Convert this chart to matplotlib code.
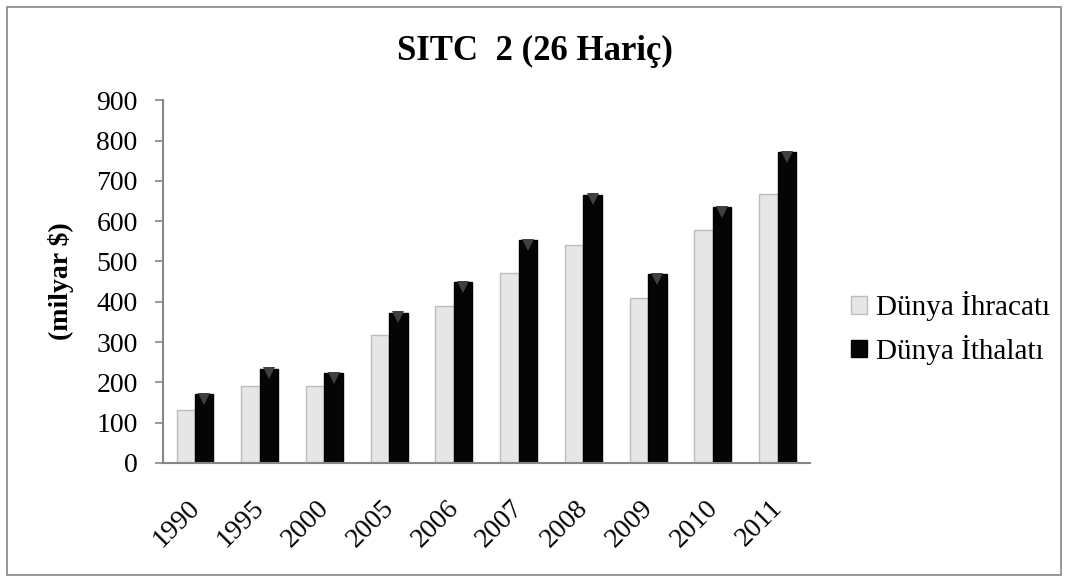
import numpy as np
import matplotlib
matplotlib.use("Agg")
import matplotlib.pyplot as plt
import matplotlib.transforms as mtransforms
from matplotlib.patches import Rectangle

years = ['1990', '1995', '2000', '2005', '2006', '2007', '2008', '2009', '2010', '2011']
ihracat = [132, 190, 190, 317, 389, 472, 542, 410, 579, 668]
ithalat = [170, 234, 224, 373, 448, 553, 666, 468, 634, 771]

plt.rcParams['font.family'] = ['Liberation Serif', 'DejaVu Serif']

fig = plt.figure(figsize=(10.7, 5.83), dpi=100)
ax = fig.add_axes([0.152, 0.206, 0.605, 0.622])

x = np.arange(len(years))
w = 0.285
ax.bar(x - w / 2, ihracat, width=w, color='#e6e6e6', edgecolor='#bdbdbd', linewidth=1.0,
       label='Dünya İhracatı')
ax.bar(x + w / 2, ithalat, width=w, color='#050505', edgecolor='#000000', linewidth=1.0,
       label='Dünya İthalatı')

# small bevel triangles at the top of the import bars
down = mtransforms.ScaledTranslation(0, -3.5 / 72, fig.dpi_scale_trans)
ax.plot(x + w / 2, ithalat, linestyle='none', marker='v', markersize=9,
        color='#404040', markeredgewidth=0, transform=ax.transData + down)

ax.set_xlim(-0.5, len(years) - 0.5)
ax.set_ylim(0, 900)
ax.set_yticks(range(0, 901, 100))
ax.set_xticks(x)
ax.set_xticklabels(years, rotation=45, ha='right', rotation_mode='anchor', fontsize=20)
ax.tick_params(axis='y', labelsize=20, color='#868686', length=6, width=1.2, pad=12)
ax.tick_params(axis='x', length=0, pad=16)
shift = mtransforms.ScaledTranslation(-0.08, -0.10, fig.dpi_scale_trans)
for lbl in ax.get_xticklabels():
    lbl.set_transform(lbl.get_transform() + shift)
for s in ['top', 'right']:
    ax.spines[s].set_visible(False)
for s in ['left', 'bottom']:
    ax.spines[s].set_color('#868686')
    ax.spines[s].set_linewidth(1.5)

ax.set_ylabel('(milyar $)', fontsize=20, fontweight='bold', labelpad=16)
fig.text(0.5, 0.912, 'SITC  2 (26 Hariç)', ha='center', va='center', fontsize=25, fontweight='bold')

ax.legend(loc='center left', bbox_to_anchor=(1.045, 0.372), frameon=False, fontsize=21,
          handlelength=0.55, handleheight=0.55, handletextpad=0.3, labelspacing=0.47,
          borderaxespad=0)

fig.patches.append(Rectangle((0.007, 0.014), 0.985, 0.974, transform=fig.transFigure,
                             fill=False, edgecolor='#868686', linewidth=1.2))

fig.savefig('out.png', dpi=100)
